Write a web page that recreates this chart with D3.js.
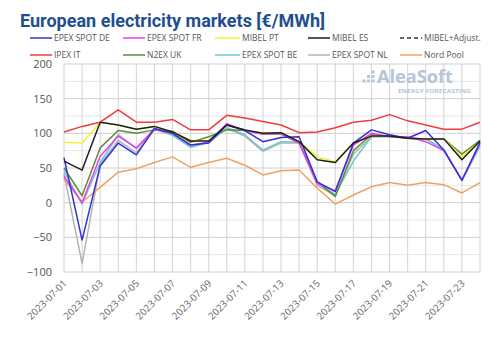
<!DOCTYPE html>
<html><head><meta charset="utf-8">
<script src="https://cdn.jsdelivr.net/npm/d3@7"></script>
<style>body{margin:0;background:#fff}svg{display:block}</style>
</head><body>
<svg id="c" width="500" height="342"></svg>
<script>
const dates = d3.range(1,25).map(d=>"2023-07-"+String(d).padStart(2,"0"));
const tickLabels = ["2023-07-01","2023-07-03","2023-07-05","2023-07-07","2023-07-09","2023-07-11","2023-07-13","2023-07-15","2023-07-17","2023-07-19","2023-07-21","2023-07-23"];
const yTicks = [-100,-50,0,50,100,150,200];

const nordPool = [34,1,22,44,49,58,66,51,58,64,54,40,46,47,21,-2,11,23,29,25,29,26,14,29];
const epexNL   = [42,-88,55,90,72,107,98,80,87,107,96,74,86,86,25,10,70,95,96,93,92,76,32,82];
const epexBE   = [45,-2,58,98,78,106,97,80,87,108,98,76,88,87,28,12,60,95,95,93,92,76,32,82];
const n2exUK   = [50,10,79,104,100,105,103,87,95,105,104,99,99,86,30,9,75,98,96,93,92,92,70,90];
const ipexIT   = [102,110,116,134,116,116,120,105,105,126,122,117,112,101,102,108,116,119,127,118,112,106,106,116];
const mibelES  = [60,47,116,112,106,110,102,89,89,112,105,100,101,88,62,58,86,96,96,93,92,92,62,89];
const mibelPT  = [87,86,116,112,106,110,102,90,88,112,105,100,101,88,66,59,86,96,96,93,92,92,66,88];
const epexFR   = [38,0,67,96,79,106,100,83,87,114,104,99,100,86,28,17,83,100,95,95,88,75,33,85];
const epexDE   = [65,-54,53,86,69,107,100,83,86,112,104,88,94,95,30,16,86,105,98,93,104,76,32,87];

const series = [
  {name:"EPEX SPOT NL", color:"#b4b4b4", values:epexNL},
  {name:"EPEX SPOT BE", color:"#6cc8d0", values:epexBE},
  {name:"Nord Pool", color:"#f0a264", values:nordPool},
  {name:"N2EX UK", color:"#5e8c3a", values:n2exUK},
  {name:"IPEX IT", color:"#f03c3c", values:ipexIT},
  {name:"MIBEL PT", color:"#f2f23a", values:mibelPT},
  {name:"EPEX SPOT FR", color:"#f03cf0", values:epexFR},
  {name:"EPEX SPOT DE", color:"#3232d2", values:epexDE},
  {name:"MIBEL ES", color:"#1e1e1e", values:mibelES}
];
const legendRows = [
  [["EPEX SPOT DE","#3232d2",false],["EPEX SPOT FR","#f03cf0",false],["MIBEL PT","#f2f23a",false],["MIBEL ES","#1e1e1e",false],["MIBEL+Adjust.","#333",true]],
  [["IPEX IT","#f03c3c",false],["N2EX UK","#5e8c3a",false],["EPEX SPOT BE","#6cc8d0",false],["EPEX SPOT NL","#b4b4b4",false],["Nord Pool","#f0a264",false]]
];

const svg = d3.select("#c");
const L=64,R=480,T=64,B=272;
const parse = d3.timeParse("%Y-%m-%d");
const x = d3.scaleTime().domain([parse(dates[0]),parse(dates[dates.length-1])]).range([L,R]);
const y = d3.scaleLinear().domain([-100,200]).range([B,T]);

// title
svg.append("text").attr("x",20).attr("y",27)
  .attr("font-family","Roboto, 'Open Sans', sans-serif").attr("font-weight","bold")
  .attr("font-size",17.5).attr("fill","#1f4f8f")
  .attr("textLength",305).attr("lengthAdjust","spacingAndGlyphs")
  .text("European electricity markets [€/MWh]");

// legend
const lx=[30,123,215,308,400];
legendRows.forEach((row,ri)=>{
  const ly = ri===0?38:55;
  row.forEach((it,i)=>{
    svg.append("line").attr("x1",lx[i]).attr("x2",lx[i]+(i===2?25:22)).attr("y1",ly).attr("y2",ly)
      .attr("stroke",it[1]).attr("stroke-width",1.5).attr("stroke-dasharray",it[2]?"4,3":null);
    svg.append("text").attr("x",lx[i]+(i===2?27:24)).attr("y",ly+3).attr("font-family","'Open Sans', sans-serif")
      .attr("font-size",8.5).attr("fill","#555").text(it[0]);
  });
});

// grid
const g = svg.append("g");
d3.range(-100,201,25).forEach(v=>{
  g.append("line").attr("x1",L).attr("x2",R).attr("y1",y(v)).attr("y2",y(v))
   .attr("stroke", v%50===0?"#cfcfcf":"#e6e6e6").attr("stroke-width",1);
});
dates.forEach(d=>{
  g.append("line").attr("x1",x(parse(d))).attr("x2",x(parse(d))).attr("y1",T).attr("y2",B)
   .attr("stroke","#d4d4d4").attr("stroke-width",1);
});

// y axis
const ya = svg.append("g").attr("transform",`translate(${L},0)`)
  .call(d3.axisLeft(y).tickValues(yTicks).tickSize(0).tickPadding(12));
ya.select(".domain").remove();
ya.selectAll("text").attr("font-family","'Open Sans', sans-serif").attr("font-size",11).attr("fill","#555");

// x axis
const xa = svg.append("g").attr("transform",`translate(0,${B})`)
  .call(d3.axisBottom(x).tickValues(tickLabels.map(parse)).tickFormat(d3.timeFormat("%Y-%m-%d")).tickSize(0));
xa.select(".domain").remove();
xa.selectAll("text").attr("font-family","'Open Sans', sans-serif").attr("font-size",9.8).attr("fill","#666")
  .attr("text-anchor","end").attr("dy",0).attr("y",0)
  .attr("transform","translate(3,12) rotate(-45)");

// watermark
const wm = svg.append("g").attr("fill","#b5c5da");
const dots=[[373,72],[373,76.5],[373,81],[368.5,76.5],[368.5,81],[364,81]];
dots.forEach(p=>wm.append("rect").attr("x",p[0]-1.5).attr("y",p[1]-1.5).attr("width",3).attr("height",3));
wm.append("text").attr("x",377).attr("y",83).attr("font-family","'Open Sans', sans-serif").attr("font-weight","bold")
  .attr("font-size",18).attr("textLength",76).attr("lengthAdjust","spacingAndGlyphs").text("AleaSoft");
wm.append("text").attr("x",398).attr("y",92.5).attr("font-family","'Open Sans', sans-serif").attr("font-weight","bold")
  .attr("font-size",5).attr("textLength",73).attr("lengthAdjust","spacingAndGlyphs").text("ENERGY FORECASTING");

// lines
const line = d3.line().x((d,i)=>x(parse(dates[i]))).y(d=>y(d));
series.forEach(s=>{
  svg.append("path").datum(s.values).attr("d",line).attr("fill","none")
    .attr("stroke",s.color).attr("stroke-width",1.5).attr("stroke-linejoin","round");
});
</script>
</body></html>
